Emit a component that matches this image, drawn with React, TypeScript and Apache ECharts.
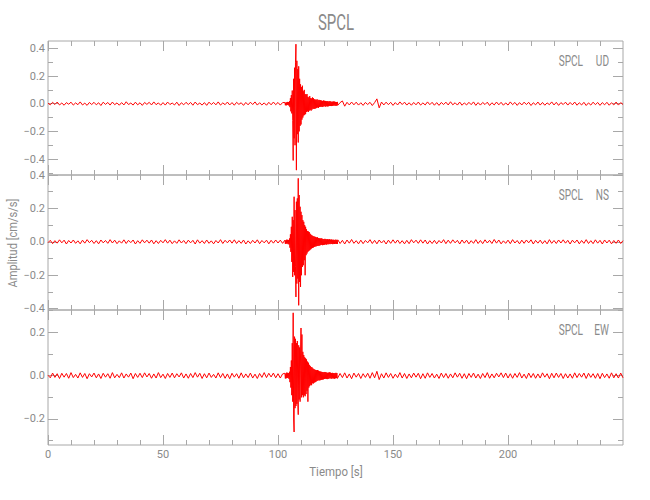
import { useEffect, useRef } from "react";
import * as echarts from "echarts";

// ---------- data (amplitudes in 0.001 cm/s/s) ----------
const PRE_SPAN = [0, 102];      // seconds, sampled every ~1 s
const EVT_START = 103;          // seconds
const EVT_STEP = 0.2;           // seconds
const POST_SPAN = [126, 250];   // seconds, sampled every ~1 s

const udPre = [
  3,-8,10,-6,12,-9,5,-11,8,-4,11,-10,6,-7,13,-9,4,-12,9,-6,
  10,-8,7,-13,11,-5,9,-10,12,-7,6,-11,8,-9,14,-6,5,-10,11,-8,
  7,-12,9,-5,10,-9,13,-7,6,-11,8,-10,12,-6,5,-9,11,-13,7,-8,
  10,-6,9,-11,12,-7,5,-10,8,-12,11,-6,9,-8,13,-10,6,-7,12,-9,
  8,-11,10,-5,7,-12,9,-8,11,-6,13,-10,7,-9,6,-11,10,-8,12,-7,9,-10,8,
];
const udEvent = [
  9,-11,8,-12,10, -9,13,-10,12,-14, 18,-25,40,-55,62, -70,95,-120,-410,180,
  -250,260,-300,300,430, -480,310,-220,250,-280, 270,-200,180,-160,140, -150,120,-115,130,-100,
  90,-85,100,-80,70, -75,65,-60,70,-55, 50,-60,45,-50,55, -45,40,-50,38,-42,
  45,-35,40,-38,32, -36,30,-34,28,-30, 32,-27,25,-30,28, -24,26,-22,25,-21,
  22,-24,20,-21,23, -19,21,-18,20,-22, 18,-17,19,-20,16, -18,17,-15,19,-16,
  15,-17,14,-16,15, -14,16,-13,15,-14, 13,-15,12,-14,13,
];
const udPost = [
  -11,8,20,-18,10,-9,12,-8,11,-10,7,-12,9,-6,10,-13,8,35,-30,12,-9,11,-7,10,-12,
  8,-9,13,-6,11,-10,7,-11,9,-8,12,-10,6,-9,13,-7,10,-11,8,-12,9,-6,11,-9,14,
  -8,7,-10,12,-11,6,-9,10,-7,13,-12,8,-10,9,-6,11,-13,7,-9,12,-8,10,-11,6,-10,
  13,-7,9,-12,8,-9,11,-6,10,-13,7,-8,12,-10,9,-11,6,-7,13,-9,10,-12,8,-6,11,
  -10,9,-8,12,-11,7,-9,10,-13,6,-10,11,-7,9,-12,8,-8,10,-11,7,-9,12,-10,8,-6,
];

const nsPre = [
  -5,9,-11,7,-8,12,-6,10,-13,8,-7,11,-9,6,-12,10,-8,13,-5,9,
  -10,7,-12,11,-6,8,-9,13,-7,10,-11,6,-8,12,-10,9,-5,11,-13,7,
  -9,12,-6,10,-8,11,-12,7,-10,9,-6,13,-8,10,-11,6,-9,12,-7,8,
  -11,10,-6,9,-13,12,-8,7,-10,11,-9,6,-12,8,-7,13,-10,9,-6,11,
  -8,12,-10,7,-9,11,-13,6,-10,9,-7,12,-11,8,-6,10,-12,9,-8,11,-7,10,-9,
];
const nsEvent = [
  10,-12,9,-11,13, -10,12,-14,11,-15, 20,-35,45,-60,90, -120,150,-210,130,-180,
  270,-200,190,-150,-330, 240,-250,260,-220,380, -380,280,-240,210,-270, 180,-200,160,-150,130,
  -140,120,-110,100,-200, 90,-80,75,-70,65, -60,62,-55,58,-50, 48,-45,42,-40,38,
  -36,35,-34,32,-30, 31,-28,29,-27,26, -25,27,-24,22,-23, 21,-22,20,-19,21,
  -18,19,-20,17,-18, 16,-17,18,-15,16, -17,15,-14,16,-15, 14,-13,15,-14,13,
  -12,14,-13,12,-14, 13,-12,11,-13,12, -11,13,-12,11,-13,
];
const nsPost = [
  12,-10,9,-13,11,-8,14,-9,7,-12,10,-11,8,-6,13,-10,9,-12,11,-7,8,-13,10,-9,12,
  -8,11,-10,7,-12,9,-11,13,-6,10,-9,12,-8,11,-13,7,-10,9,-12,8,-7,13,-11,10,-9,
  12,-6,9,-13,11,-8,10,-12,7,-9,13,-10,8,-11,12,-7,9,-10,14,-8,11,-12,6,-9,10,
  -11,13,-7,8,-12,10,-9,11,-6,12,-13,9,-8,10,-11,7,-12,13,-9,8,-10,11,-7,12,-8,
  9,-13,10,-6,11,-12,8,-9,13,-10,7,-11,12,-8,9,-13,11,-7,10,-12,8,-9,11,-10,7,
];

const ewPre = [
  2,-10,12,-8,9,-13,11,-7,10,-12,14,-9,6,-11,13,-8,10,-14,9,-6,
  12,-10,8,-13,11,-7,9,-12,14,-10,6,-9,13,-11,8,-7,12,-14,10,-8,
  11,-9,13,-6,10,-12,8,-11,14,-9,7,-13,10,-8,12,-10,9,-6,13,-11,
  8,-12,10,-9,14,-7,11,-13,9,-10,12,-8,6,-11,13,-9,10,-12,8,-14,
  11,-7,9,-12,13,-10,8,-9,12,-11,7,-13,10,-8,14,-9,11,-6,12,-10,9,-11,8,
];
const ewEvent = [
  11,-13,10,-12,14, -11,13,-10,12,-15, 18,-30,40,-55,70, -90,150,-120,290,-200,
  -260,180,-150,170,-140, 150,-130,160,-120,-180, 140,-110,130,-120,100, 220,-100,190,-90,110,
  -100,95,-90,85,-95, 80,-85,75,-70,65, -120,60,-55,50,-48, 45,-42,40,-44,38,
  -35,33,-36,30,-32, 28,-30,26,-27,25, -24,26,-22,23,-21, 20,-22,19,-20,18,
  -19,17,-18,16,-17, 16,-15,17,-14,16, -15,14,-16,13,-15, 14,-13,15,-12,14,
  -13,12,-14,13,-12, 12,-13,11,-14,12, -12,13,-11,12,-13,
];
const ewPost = [
  -12,10,-9,13,-11,8,-14,12,-7,10,-13,9,-8,11,-12,14,-10,20,-18,9,-11,13,-8,10,-12,
  7,-9,14,-11,10,-13,8,-10,12,-7,11,-14,9,-12,13,-8,10,-11,7,-13,12,-9,10,-12,8,
  -10,13,-7,11,-12,9,-14,10,-8,12,-11,7,-13,10,-9,14,-12,8,-10,11,-6,13,-9,12,-11,
  9,-12,10,-8,14,-11,7,-13,12,-9,10,-12,8,-11,13,-7,9,-14,11,-10,12,-8,10,-13,9,
  -11,8,-12,13,-9,10,-7,12,-13,11,-8,9,-12,10,-14,11,-9,8,-12,13,-10,9,-11,12,-10,
];

const TITLE = "SPCL";
const STATION = "SPCL";
const COMPONENTS = ["UD", "NS", "EW"];
const X_NAME = "Tiempo [s]";
const Y_NAME = "Amplitud [cm/s/s]";
const X_RANGE = [0, 250];
const X_MAJOR = [0, 50, 100, 150, 200];
const X_MINOR = [10, 20, 30, 40, 60, 70, 80, 90, 110, 120, 130, 140, 160, 170, 180, 190, 210, 220, 230, 240];
const Y_RANGES = [[-0.515, 0.453], [-0.408, 0.4], [-0.32, 0.303]];
const Y_MAJOR = [[-0.4, -0.2, 0, 0.2, 0.4], [-0.4, -0.2, 0, 0.2, 0.4], [-0.2, 0, 0.2]];
const Y_MINOR = [[-0.5, -0.3, -0.1, 0.1, 0.3], [-0.3, -0.1, 0.1, 0.3], [-0.3, -0.1, 0.1, 0.3]];

// ---------- layout / style ----------
const GRID_TOPS = [41, 175, 310];
const GRID_HEIGHTS = [134, 135, 135];
const GRID_LEFT = 48;
const GRID_WIDTH = 575;
const FONT = "Roboto, 'Liberation Sans', sans-serif";
const AXIS_COLOR = "#a8a8a8";
const TEXT_COLOR = "#8a8a8a";
const LINE_COLOR = "#ff0000";

function buildTrace(pre: number[], evt: number[], post: number[]) {
  const pts: number[][] = [];
  const preStep = (PRE_SPAN[1] - PRE_SPAN[0]) / (pre.length - 1);
  pre.forEach((v, i) => pts.push([PRE_SPAN[0] + i * preStep, v / 1000]));
  evt.forEach((v, i) => pts.push([EVT_START + i * EVT_STEP, v / 1000]));
  const postStep = (POST_SPAN[1] - POST_SPAN[0]) / (post.length - 1);
  post.forEach((v, i) => pts.push([POST_SPAN[0] + i * postStep, v / 1000]));
  return pts;
}

const TRACES = [
  buildTrace(udPre, udEvent, udPost),
  buildTrace(nsPre, nsEvent, nsPost),
  buildTrace(ewPre, ewEvent, ewPost),
];

function fmt(v: number) {
  return (v < 0 ? "\u2212" : "") + Math.abs(v).toFixed(1);
}

export default function App() {
  const ref = useRef<HTMLDivElement>(null);
  useEffect(() => {
    if (!ref.current) return;
    const chart = echarts.init(ref.current, undefined, { renderer: "svg" });
    const grids: any[] = [];
    const xAxes: any[] = [];
    const yAxes: any[] = [];
    const series: any[] = [];
    const graphics: any[] = [];

    for (let k = 0; k < 3; k++) {
      grids.push({
        left: GRID_LEFT, top: GRID_TOPS[k], width: GRID_WIDTH, height: GRID_HEIGHTS[k],
        show: true, borderColor: AXIS_COLOR, borderWidth: 1, backgroundColor: "transparent",
      });
      const baseX = {
        type: "value", gridIndex: k, min: X_RANGE[0], max: X_RANGE[1],
        axisLine: { show: false, onZero: false }, splitLine: { show: false },
      };
      const isBottom = k === 2;
      xAxes.push({
        ...baseX, position: "bottom",
        axisTick: { show: true, inside: true, length: 10, customValues: X_MAJOR, lineStyle: { color: AXIS_COLOR } },
        axisLabel: {
          show: isBottom, customValues: X_MAJOR, color: TEXT_COLOR, fontFamily: FONT, fontSize: 11, margin: 4,
        },
      });
      xAxes.push({
        ...baseX, position: "bottom",
        axisTick: { show: true, inside: true, length: 5, customValues: X_MINOR, lineStyle: { color: AXIS_COLOR } },
        axisLabel: { show: false },
      });
      xAxes.push({
        ...baseX, position: "top",
        axisTick: { show: true, inside: true, length: 10, customValues: X_MAJOR, lineStyle: { color: AXIS_COLOR } },
        axisLabel: { show: false },
      });
      xAxes.push({
        ...baseX, position: "top",
        axisTick: { show: true, inside: true, length: 5, customValues: X_MINOR, lineStyle: { color: AXIS_COLOR } },
        axisLabel: { show: false },
      });

      const baseY = {
        type: "value", gridIndex: k, min: Y_RANGES[k][0], max: Y_RANGES[k][1],
        axisLine: { show: false, onZero: false }, splitLine: { show: false },
      };
      yAxes.push({
        ...baseY, position: "left",
        axisTick: { show: true, inside: true, length: 10, customValues: Y_MAJOR[k], lineStyle: { color: AXIS_COLOR } },
        axisLabel: {
          show: true, customValues: Y_MAJOR[k], formatter: fmt, color: TEXT_COLOR,
          fontFamily: FONT, fontSize: 11, margin: 3,
        },
      });
      yAxes.push({
        ...baseY, position: "left",
        axisTick: { show: true, inside: true, length: 5, customValues: Y_MINOR[k], lineStyle: { color: AXIS_COLOR } },
        axisLabel: { show: false },
      });
      yAxes.push({
        ...baseY, position: "right",
        axisTick: { show: true, inside: true, length: 10, customValues: Y_MAJOR[k], lineStyle: { color: AXIS_COLOR } },
        axisLabel: { show: false },
      });
      yAxes.push({
        ...baseY, position: "right",
        axisTick: { show: true, inside: true, length: 5, customValues: Y_MINOR[k], lineStyle: { color: AXIS_COLOR } },
        axisLabel: { show: false },
      });

      series.push({
        type: "line", xAxisIndex: k * 4, yAxisIndex: k * 4, data: TRACES[k],
        showSymbol: false, symbol: "none", clip: true,
        lineStyle: { color: LINE_COLOR, width: 1 }, z: 1,
      });

      graphics.push({
        type: "text", x: 583, y: GRID_TOPS[k] + 20, scaleX: 0.72,
        style: {
          text: STATION, fill: TEXT_COLOR, font: `14px ${FONT}`,
          align: "right", verticalAlign: "middle",
        },
      });
      graphics.push({
        type: "text", x: 609, y: GRID_TOPS[k] + 20, scaleX: 0.72,
        style: {
          text: COMPONENTS[k], fill: TEXT_COLOR, font: `14px ${FONT}`,
          align: "right", verticalAlign: "middle",
        },
      });
    }

    graphics.push({
      type: "text", x: 336, y: 23, scaleX: 0.68,
      style: { text: TITLE, fill: TEXT_COLOR, font: `22px ${FONT}`, align: "center", verticalAlign: "middle" },
    });
    graphics.push({
      type: "text", x: 336, y: 472, scaleX: 0.88,
      style: { text: X_NAME, fill: TEXT_COLOR, font: `13px ${FONT}`, align: "center", verticalAlign: "middle" },
    });
    graphics.push({
      type: "text", x: 13, y: 243, rotation: Math.PI / 2, scaleX: 0.85,
      style: { text: Y_NAME, fill: TEXT_COLOR, font: `13px ${FONT}`, align: "center", verticalAlign: "middle" },
    });

    chart.setOption({
      animation: false,
      backgroundColor: "#ffffff",
      grid: grids,
      xAxis: xAxes,
      yAxis: yAxes,
      series,
      graphic: graphics,
    });
    return () => chart.dispose();
  }, []);
  return (
    <div
      ref={ref}
      style={{ position: "fixed", left: 0, top: 0, width: 650, height: 500 }}
    />
  );
}
